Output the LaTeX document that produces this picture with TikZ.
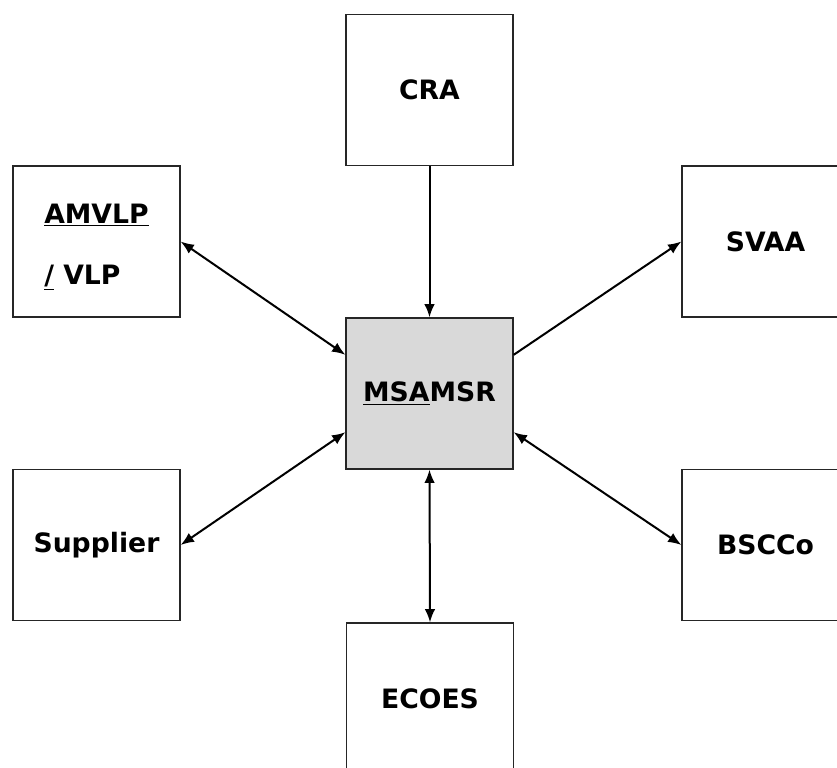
\documentclass[tikz,border=0pt]{standalone}
\usepackage{fontspec}
\setmainfont{DejaVu Sans}
\usepackage{tikz}
\usepackage{xcolor}
\usetikzlibrary{arrows.meta}

\begin{document}
\begin{tikzpicture}[x=0.75pt,y=-0.75pt,
    party/.style={draw=black!85,line width=1.2pt,minimum width=125pt,minimum height=113pt,inner sep=0pt,font=\fontsize{20}{24}\selectfont\bfseries},
    link/.style={line width=1.5pt,{Latex[length=10pt,width=8pt]}-{Latex[length=10pt,width=8pt]}},
    oneway/.style={line width=1.5pt,-{Latex[length=10pt,width=8pt]}}]
            \useasboundingbox (0,0) rectangle (837,767);
            \node[party] (cra) at (429.5,90) {CRA};
            \node[party,align=left] (amvlp) at (96.5,241.5) {\rule{0pt}{23pt}\underline{AMVLP}\\[22pt]\underline{/} VLP};
            \node[party] (svaa) at (765.5,241.5) {SVAA};
            \node[party,fill=black!15] (msamsr) at (429.5,393.5) {\underline{MSA}MSR};
            \node[party] (supplier) at (96.5,545) {Supplier};
            \node[party] (bscco) at (765.5,545) {BSCCo};
            \node[party] (ecoes) at (430,698.5) {ECOES};
            \draw[oneway] (cra.south) -- (msamsr.north);
            \draw[link] (amvlp.east) -- ([yshift=29pt]msamsr.west);
            \draw[oneway] ([yshift=29pt]msamsr.east) -- (svaa.west);
            \draw[link] (supplier.east) -- ([yshift=-29pt]msamsr.west);
            \draw[link] ([yshift=-29pt]msamsr.east) -- (bscco.west);
            \draw[link] (msamsr.south) -- (ecoes.north);
        \end{tikzpicture}
\end{document}
